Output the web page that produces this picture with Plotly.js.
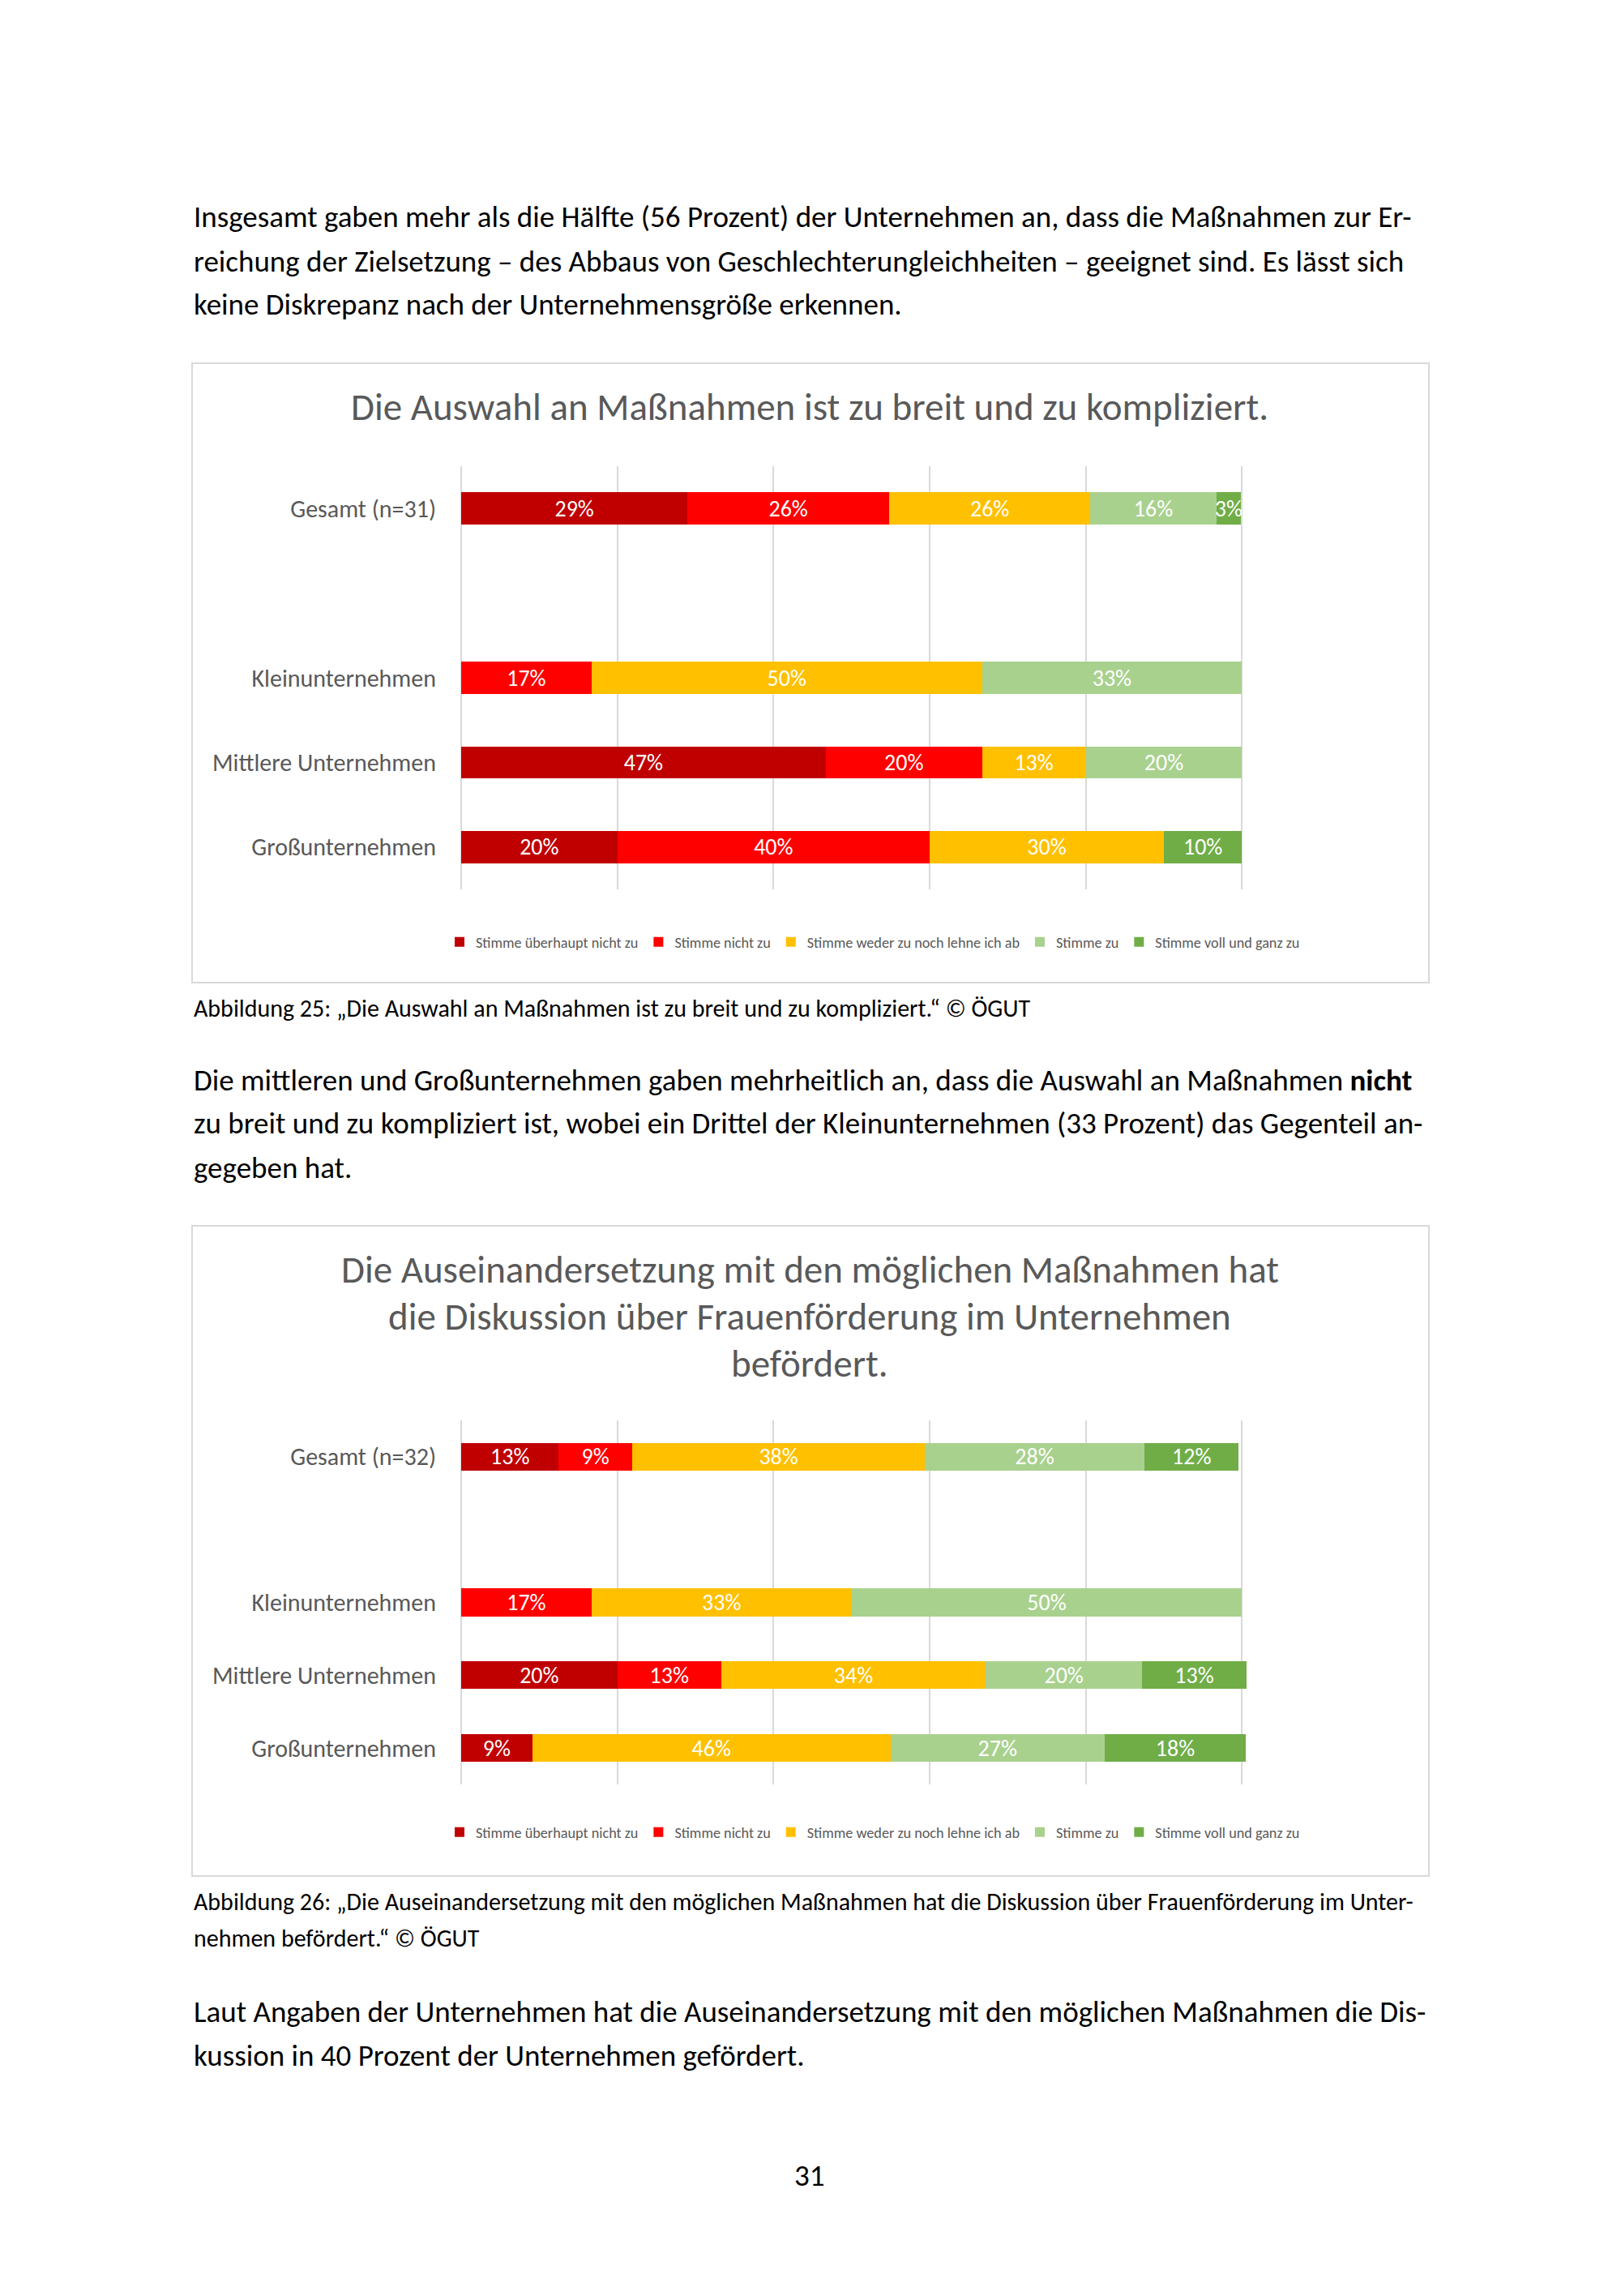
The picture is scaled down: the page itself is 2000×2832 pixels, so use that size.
<!DOCTYPE html>
<html>
<head>
<meta charset="utf-8">
<script src="https://cdn.plot.ly/plotly-3.0.1.min.js"></script>
<style>
html,body{margin:0;padding:0;background:#fff;}
#chart{width:2000px;height:2832px;}
</style>
</head>
<body>
<div id="chart"></div>
<script>
// ---------- data ----------
const seriesNames = ["Stimme überhaupt nicht zu", "Stimme nicht zu", "Stimme weder zu noch lehne ich ab", "Stimme zu", "Stimme voll und ganz zu"];
const seriesColors = ["#C00000", "#FF0000", "#FFC000", "#A9D18E", "#70AD47"];

const categories1 = ["Gesamt (n=31)", " ", "Kleinunternehmen", "Mittlere Unternehmen", "Großunternehmen"];
const c1_stimmeUeberhauptNicht = [29.0, null, 0, 46.7, 20];
const c1_stimmeNicht          = [25.8, null, 16.7, 20, 40];
const c1_weder                = [25.8, null, 50, 13.3, 30];
const c1_stimmeZu             = [16.1, null, 33.3, 20, 0];
const c1_vollUndGanz          = [3.2, null, 0, 0, 10];

const categories2 = ["Gesamt (n=32)", " ", "Kleinunternehmen", "Mittlere Unternehmen", "Großunternehmen"];
const c2_stimmeUeberhauptNicht = [12.5, null, 0, 20, 9.1];
const c2_stimmeNicht          = [9.4, null, 16.7, 13.3, 0];
const c2_weder                = [37.5, null, 33.3, 33.9, 45.9];
const c2_stimmeZu             = [28.1, null, 50, 20, 27.4];
const c2_vollUndGanz          = [12.1, null, 0, 13.4, 18.1];

const title1 = "Die Auswahl an Maßnahmen ist zu breit und zu kompliziert.";
const title2Lines = ["Die Auseinandersetzung mit den möglichen Maßnahmen hat", "die Diskussion über Frauenförderung im Unternehmen", "befördert."];

const para1 = ["Insgesamt gaben mehr als die Hälfte (56 Prozent) der Unternehmen an, dass die Maßnahmen zur Er-",
               "reichung der Zielsetzung – des Abbaus von Geschlechterungleichheiten – geeignet sind. Es lässt sich",
               "keine Diskrepanz nach der Unternehmensgröße erkennen."];
const caption1 = ["Abbildung 25: „Die Auswahl an Maßnahmen ist zu breit und zu kompliziert.“ © ÖGUT"];
const para2 = ["Die mittleren und Großunternehmen gaben mehrheitlich an, dass die Auswahl an Maßnahmen <b>nicht</b>",
               "zu breit und zu kompliziert ist, wobei ein Drittel der Kleinunternehmen (33 Prozent) das Gegenteil an-",
               "gegeben hat."];
const caption2 = ["Abbildung 26: „Die Auseinandersetzung mit den möglichen Maßnahmen hat die Diskussion über Frauenförderung im Unter-",
                  "nehmen befördert.“ © ÖGUT"];
const para3 = ["Laut Angaben der Unternehmen hat die Auseinandersetzung mit den möglichen Maßnahmen die Dis-",
               "kussion in 40 Prozent der Unternehmen gefördert."];
const pageNumber = "31";

// ---------- helpers ----------
const W = 2000, H = 2832;
const X = px => px / W;
const Y = py => 1 - py / H;
const FONT = "Carlito, Calibri, 'Liberation Sans Narrow', 'Open Sans', sans-serif";
const GREY = "#595959";

const chart1Series = [c1_stimmeUeberhauptNicht, c1_stimmeNicht, c1_weder, c1_stimmeZu, c1_vollUndGanz];
const chart2Series = [c2_stimmeUeberhauptNicht, c2_stimmeNicht, c2_weder, c2_stimmeZu, c2_vollUndGanz];

function label(v) { return (v && v > 0) ? Math.round(v) + "%" : ""; }

const traces = [];
function addChart(seriesList, cats, xa, ya, lg) {
  seriesList.forEach((vals, i) => {
    traces.push({
      type: "bar", orientation: "h",
      x: vals, y: cats, name: seriesNames[i],
      marker: {color: seriesColors[i]},
      text: vals.map(label), textposition: "inside", insidetextanchor: "middle",
      textangle: 0, constraintext: "none", cliponaxis: false,
      insidetextfont: {color: "#FFFFFF", size: 28, family: FONT},
      xaxis: xa, yaxis: ya, legend: lg, hoverinfo: "skip"
    });
  });
}
addChart(chart1Series, categories1, "x", "y", "legend");
addChart(chart2Series, categories2, "x2", "y2", "legend2");

function xAxis(anchor) {
  return {
    domain: [X(569), X(1725)], range: [0, 120], dtick: 20, tick0: 0,
    showgrid: true, gridcolor: "#D9D9D9", gridwidth: 2, zeroline: true,
    zerolinecolor: "#D9D9D9", zerolinewidth: 2, showticklabels: false,
    showline: false, anchor: anchor, fixedrange: true
  };
}
function yAxis(anchor, cats, dom) {
  return {
    domain: dom, type: "category", categoryorder: "array", categoryarray: cats,
    autorange: "reversed", showgrid: false, zeroline: false, showline: false,
    ticks: "outside", ticklen: 24, tickcolor: "rgba(0,0,0,0)",
    tickfont: {family: FONT, size: 30, color: GREY}, anchor: anchor, fixedrange: true
  };
}

const annotations = [];
function addLines(lines, x, ys, size, color, align) {
  lines.forEach((t, i) => {
    annotations.push({
      text: t, xref: "paper", yref: "paper", x: X(x), y: Y(ys[i]),
      xanchor: align || "left", yanchor: "middle", showarrow: false,
      font: {family: FONT, size: size, color: color}
    });
  });
}
addLines(para1, 237, [267, 322, 376], 37, "#000000");
addLines([title1], 999, [502], 47, GREY, "center");
addLines(caption1, 237, [1243], 30, "#000000");
addLines(para2, 237, [1332, 1386, 1440], 37, "#000000");
addLines(title2Lines, 999, [1566, 1624, 1682], 47, GREY, "center");
addLines(caption2, 237, [2345, 2390], 30, "#000000");
addLines(para3, 237, [2481, 2535], 37, "#000000");
addLines([pageNumber], 999, [2683], 37, "#000000", "center");

const shapes = [
  {type: "rect", xref: "paper", yref: "paper", x0: X(237), x1: X(1763), y0: Y(448), y1: Y(1212),
   line: {color: "#D9D9D9", width: 2}, fillcolor: "rgba(0,0,0,0)", layer: "below"},
  {type: "rect", xref: "paper", yref: "paper", x0: X(237), x1: X(1763), y0: Y(1512), y1: Y(2314),
   line: {color: "#D9D9D9", width: 2}, fillcolor: "rgba(0,0,0,0)", layer: "below"}
];

function legendDef(yPx) {
  return {
    orientation: "h", x: X(547), y: Y(yPx), xanchor: "left", yanchor: "middle",
    font: {family: FONT, size: 18.2, color: GREY}, itemwidth: 30,
    bgcolor: "rgba(0,0,0,0)", traceorder: "normal"
  };
}

const layout = {
  width: W, height: H, margin: {l: 0, r: 0, t: 0, b: 0},
  paper_bgcolor: "#FFFFFF", plot_bgcolor: "rgba(0,0,0,0)",
  barmode: "stack", bargap: 0.62,
  font: {family: FONT, color: GREY},
  xaxis: xAxis("y"), yaxis: yAxis("x", categories1, [Y(1097), Y(575)]),
  xaxis2: xAxis("y2"), yaxis2: yAxis("x2", categories2, [Y(2201), Y(1752)]),
  legend: legendDef(1162), legend2: legendDef(2260),
  showlegend: true, annotations: annotations, shapes: shapes
};

Plotly.newPlot("chart", traces, layout, {staticPlot: true, displayModeBar: false});
</script>
</body>
</html>
